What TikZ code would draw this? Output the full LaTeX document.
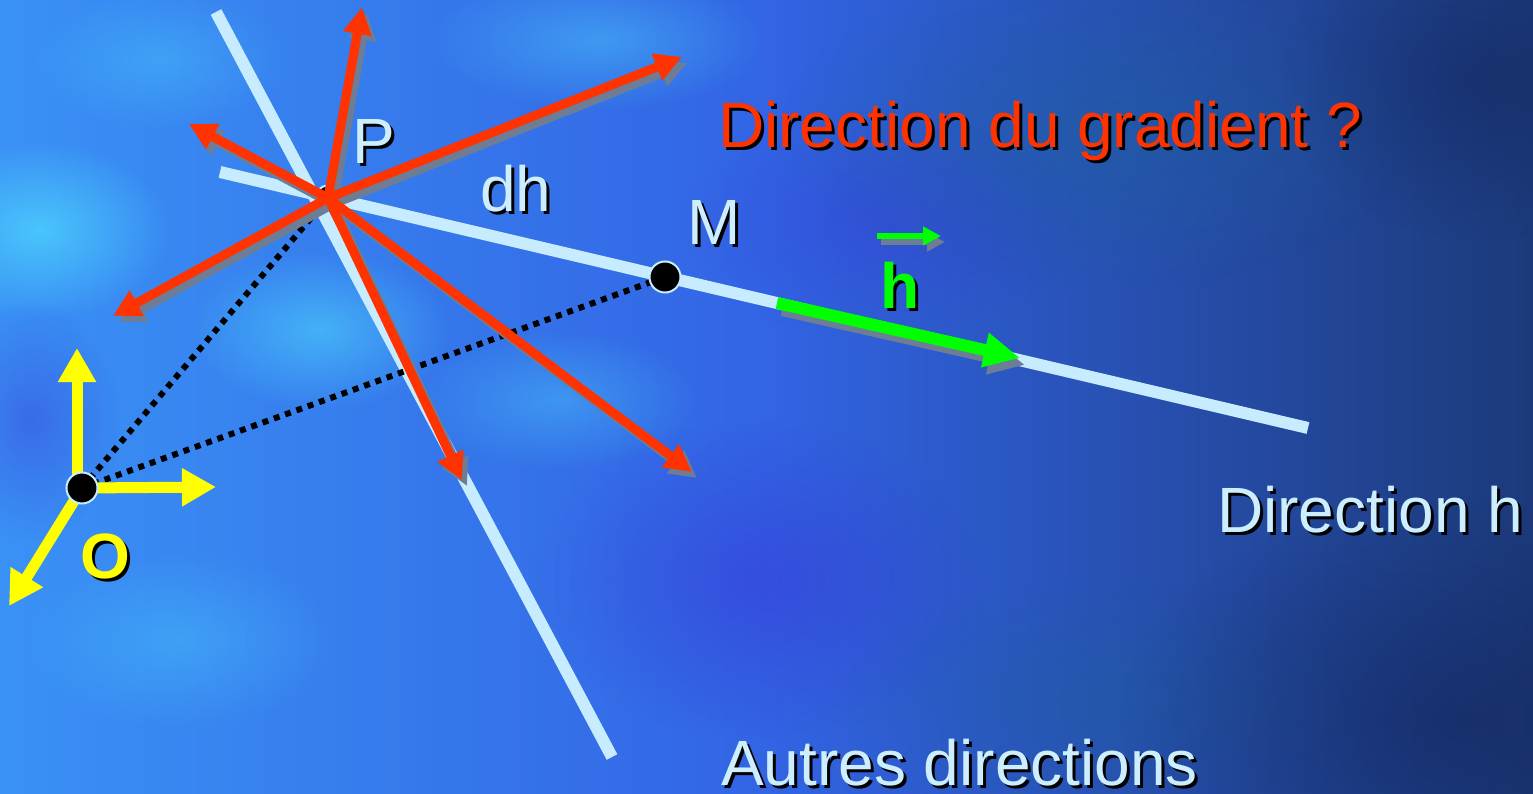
\documentclass[tikz,border=0pt]{standalone}
\usepackage{fontspec}
\setmainfont{Liberation Sans}
\usetikzlibrary{arrows.meta,fadings,calc}
\definecolor{lightln}{RGB}{200,236,255}
\definecolor{redar}{RGB}{255,51,0}
\definecolor{shad}{RGB}{110,125,150}
\definecolor{greenar}{RGB}{0,255,0}
\definecolor{yel}{RGB}{255,255,0}
\definecolor{txtlight}{RGB}{204,238,255}
\definecolor{bgL}{RGB}{58,145,245}
\definecolor{bgM}{RGB}{50,100,228}
\definecolor{bgR}{RGB}{28,58,122}
\definecolor{blobcyan}{RGB}{80,220,255}
\definecolor{blobviolet}{RGB}{55,55,215}
\definecolor{blobnavy}{RGB}{18,36,90}
\definecolor{blobteal}{RGB}{30,95,155}
\tikzfading[name=softblob, inner color=transparent!0, outer color=transparent!100]
\newcommand{\shtxt}[2]{\makebox[0pt][l]{\hspace{3pt}\raisebox{-3pt}{\color{black}#2}}{\color{#1}#2}}
\begin{document}
\begin{tikzpicture}[x=1pt,y=-1pt,
  lightline/.style={draw=lightln, line width=12pt},
  redarrow/.style={draw=redar, line width=9pt, -{Triangle[length=27pt,width=27pt]}},
  redshadow/.style={draw=shad, line width=9pt, -{Triangle[length=27pt,width=27pt]}, transform canvas={shift={(5,6)}}},
  greenarrow/.style={draw=greenar, line width=12pt, -{Triangle[length=36pt,width=33pt]}},
  greenshadow/.style={draw=shad, line width=12pt, -{Triangle[length=36pt,width=33pt]}, transform canvas={shift={(5,7)}}},
  vecarrow/.style={draw=greenar, line width=6pt, -{Triangle[length=18pt,width=18pt]}},
  vecshadow/.style={draw=shad, line width=6pt, -{Triangle[length=18pt,width=18pt]}, transform canvas={shift={(4,6)}}},
  yelarrow/.style={draw=yel, line width=11pt, -{Triangle[length=34pt,width=36pt]}},
  dotline/.style={draw=black, line width=6pt, dash pattern=on 6pt off 6pt},
  dot/.style={circle, fill=black, draw=lightln, line width=2pt, inner sep=0pt, minimum size=#1},
  lbl/.style={anchor=base west, inner sep=0pt, font=\fontsize{64}{70}\selectfont},
  blob/.style={path fading=softblob}
]
\useasboundingbox (0,0) rectangle (1533,794);
% background
\shade[left color=bgL, right color=bgR, middle color=bgM] (0,0) rectangle (1533,794);
\fill[blobcyan, fill opacity=0.7, blob] (40,230) ellipse (130 and 90);
\fill[blobcyan, fill opacity=0.55, blob] (320,330) ellipse (130 and 80);
\fill[blobcyan, fill opacity=0.4, blob] (600,40) ellipse (170 and 70);
\fill[blobcyan, fill opacity=0.35, blob] (560,400) ellipse (140 and 70);
\fill[blobcyan, fill opacity=0.3, blob] (160,60) ellipse (130 and 70);
\fill[blobcyan, fill opacity=0.3, blob] (180,640) ellipse (160 and 90);
\fill[blobviolet, fill opacity=0.5, blob] (760,580) ellipse (230 and 160);
\fill[blobviolet, fill opacity=0.4, blob] (30,420) ellipse (90 and 120);
\fill[blobviolet, fill opacity=0.35, blob] (880,220) ellipse (200 and 120);
\fill[blobteal, fill opacity=0.5, blob] (1100,130) ellipse (320 and 160);
\fill[blobteal, fill opacity=0.4, blob] (1100,700) ellipse (260 and 120);
\fill[blobnavy, fill opacity=0.55, blob] (1450,720) ellipse (330 and 220);
\fill[blobnavy, fill opacity=0.45, blob] (1480,80) ellipse (200 and 160);
% coordinates
\coordinate (P) at (328,198);
\coordinate (M) at (665,277);
\coordinate (O) at (82,488);
\coordinate (L1a) at (220,172);
\coordinate (L1b) at (1308,428);
\coordinate (L2a) at (216,12);
\coordinate (L2b) at (612,757);
\coordinate (r1) at (362,7);
\coordinate (r2) at (682,57);
\coordinate (r3) at (189,124);
\coordinate (r4) at (113,316);
\coordinate (r5) at (462,480);
\coordinate (r6) at (692,472);
\coordinate (g0) at (777,303);
\coordinate (g1) at (1020,358);
\coordinate (v0) at (877,236);
\coordinate (v1) at (941,236);
\coordinate (O0) at (77,488);
\coordinate (yup) at (77,348);
\coordinate (yright) at (216,487);
\coordinate (ydown) at (9,606);
% light lines
\draw[lightline] (L1a) -- (L1b);
\draw[lightline] (L2a) -- (L2b);
% dotted
\draw[dotline] (O) -- (P);
\draw[dotline] (O) -- (M);
% dots
\node[dot=25pt] (Pd) at (P) {};
\node[dot=31pt] (Md) at (M) {};
% red arrows
\foreach \t in {r1,r2,r3,r4,r5,r6} \draw[redshadow] (P) -- (\t);
\foreach \t in {r1,r2,r3,r4,r5,r6} \draw[redarrow] (P) -- (\t);
% green
\draw[greenshadow] (g0) -- (g1);
\draw[greenarrow] (g0) -- (g1);
\draw[vecshadow] (v0) -- (v1);
\draw[vecarrow] (v0) -- (v1);
% yellow axes
\draw[yelarrow] (O0) -- (yup);
\draw[yelarrow] (O) -- (yright);
\draw[yelarrow] (O) -- (ydown);
\node[dot=31pt] (Od) at (O) {};
% labels
\node[lbl] (tP) at (352,164) {\shtxt{txtlight}{P}};
\node[lbl] (tdh) at (480,212) {\shtxt{txtlight}{dh}};
\node[lbl] (tM) at (687,245) {\shtxt{txtlight}{M}};
\node[lbl] (tgrad) at (718,148) {\shtxt{redar}{Direction du gradient ?}};
\node[lbl] (tdirh) at (1217,532) {\shtxt{txtlight}{Direction h}};
\node[lbl] (tautres) at (721,785) {\shtxt{txtlight}{Autres directions}};
\node[lbl, font=\fontsize{64}{70}\selectfont\bfseries] (th) at (880,308) {\shtxt{greenar}{h}};
\node[lbl, font=\fontsize{64}{70}\selectfont\bfseries] (tO) at (80,578) {\shtxt{yel}{O}};
\end{tikzpicture}
\end{document}
